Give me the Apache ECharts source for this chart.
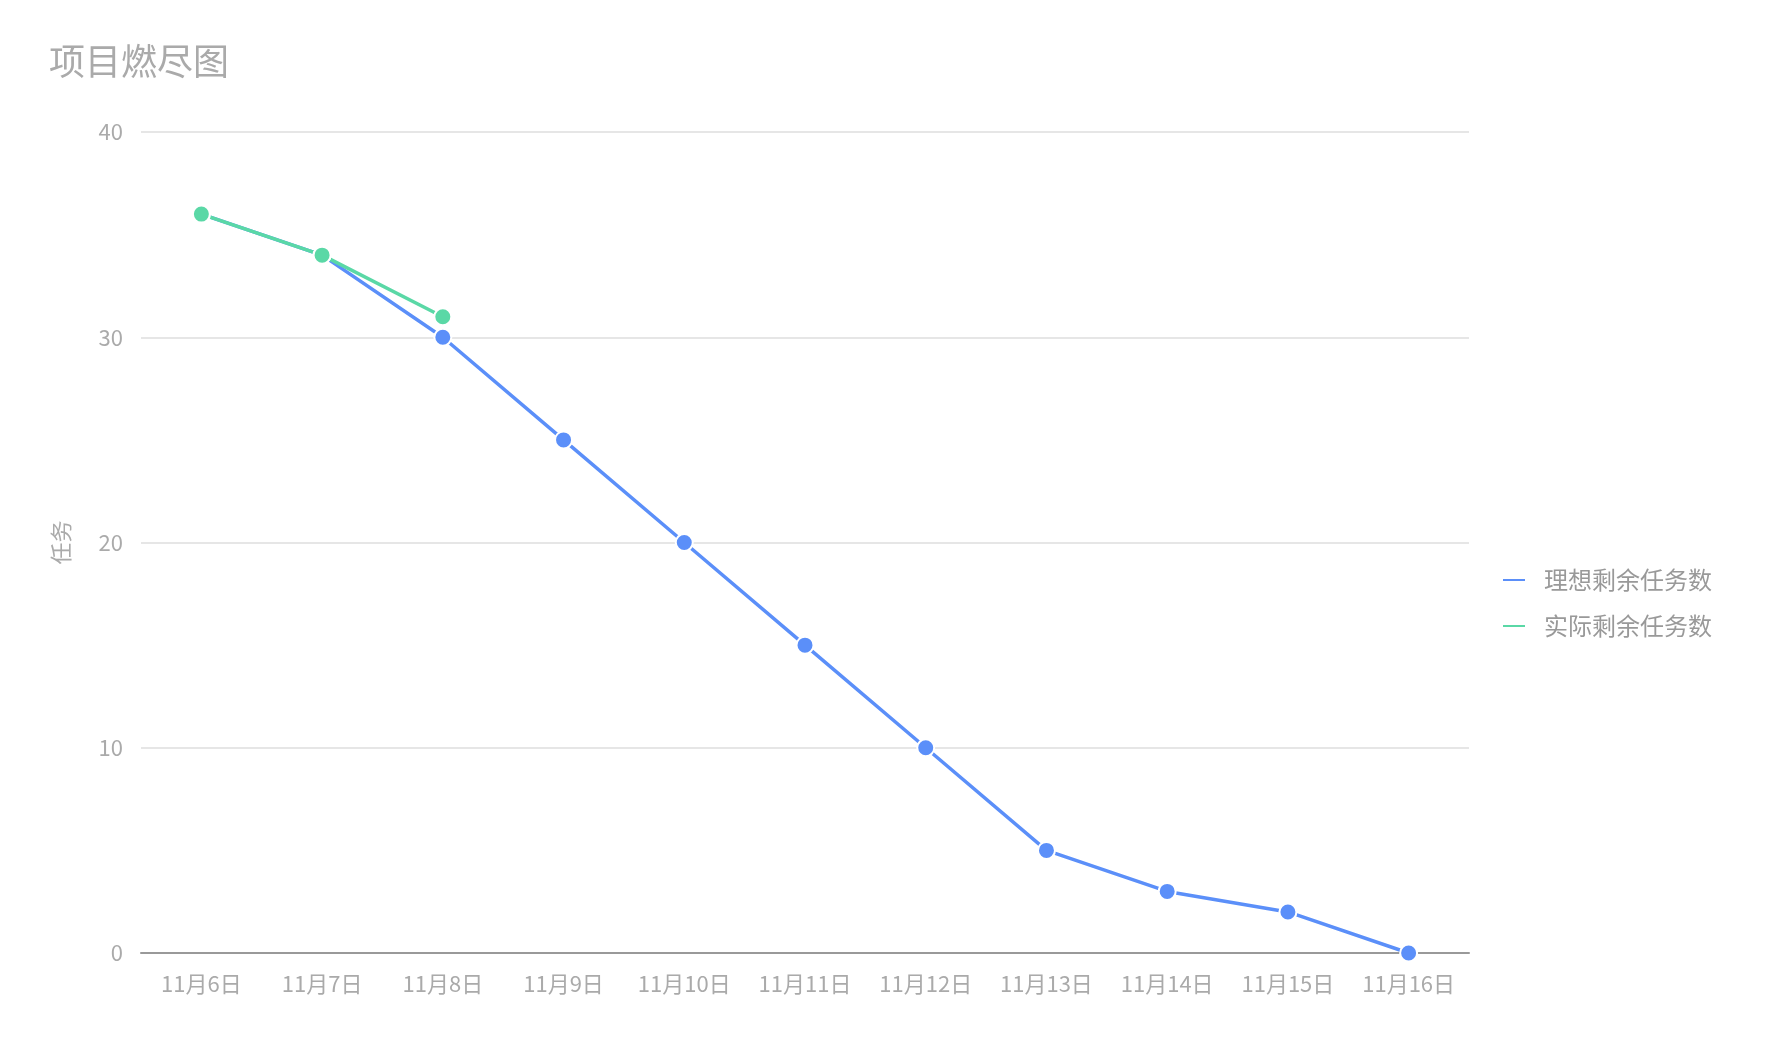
<!DOCTYPE html>
<html><head><meta charset="utf-8">
<script src="https://cdn.jsdelivr.net/npm/echarts@6/dist/echarts.min.js"></script>
<style>html,body{margin:0;padding:0;background:#fff}#c{width:1768px;height:1046px}</style>
</head><body><div id="c"></div>
<script>
const categories = ['11月6日','11月7日','11月8日','11月9日','11月10日','11月11日','11月12日','11月13日','11月14日','11月15日','11月16日'];
const idealRemaining = [36, 34, 30, 25, 20, 15, 10, 5, 3, 2, 0];
const actualRemaining = [36, 34, 31];
const yTicks = { min: 0, max: 40, interval: 10 };

const font = '"Noto Sans CJK SC", "Noto Sans", sans-serif';
const chart = echarts.init(document.getElementById('c'));
chart.setOption({
  animation: false,
  textStyle: { fontFamily: font },
  title: { text: '项目燃尽图', left: 44, top: 38, textStyle: { fontFamily: font, fontSize: 36, fontWeight: 'normal', color: '#aaa' } },
  legend: {
    orient: 'vertical', left: 1496, top: 563, itemGap: 22,
    icon: 'roundRect', itemWidth: 24, itemHeight: 4,
    textStyle: { fontFamily: font, fontSize: 24, color: '#999', padding: [0, 0, 0, 13] },
    data: ['理想剩余任务数', '实际剩余任务数']
  },
  grid: { left: 141, right: 299, top: 132, bottom: 93, containLabel: false },
  xAxis: {
    type: 'category', data: categories, boundaryGap: true,
    axisLine: { lineStyle: { color: '#999', width: 2 } },
    axisTick: { alignWithLabel: true, length: 9, lineStyle: { color: '#bbb' } },
    axisLabel: { fontFamily: font, fontSize: 22, color: '#aaa', margin: 20 }
  },
  yAxis: {
    type: 'value', min: yTicks.min, max: yTicks.max, interval: yTicks.interval,
    name: '任务', nameLocation: 'middle', nameGap: 69, nameRotate: 90,
    nameTextStyle: { fontFamily: font, fontSize: 22, color: '#aaa' },
    axisLine: { show: false }, axisTick: { show: false },
    axisLabel: { fontFamily: font, fontSize: 22, color: '#aaa', margin: 18 },
    splitLine: { lineStyle: { color: '#e6e6e6', width: 2 } }
  },
  series: [
    { name: '理想剩余任务数', type: 'line', data: idealRemaining, symbol: 'circle', symbolSize: 17,
      color: '#5B8FF9', lineStyle: { width: 3.5, color: '#5B8FF9' },
      itemStyle: { color: '#5B8FF9', borderColor: '#fff', borderWidth: 2 } },
    { name: '实际剩余任务数', type: 'line', data: actualRemaining, symbol: 'circle', symbolSize: 17,
      color: '#5AD8A6', lineStyle: { width: 3.5, color: '#5AD8A6' },
      itemStyle: { color: '#5AD8A6', borderColor: '#fff', borderWidth: 2 } }
  ]
});
</script></body></html>
